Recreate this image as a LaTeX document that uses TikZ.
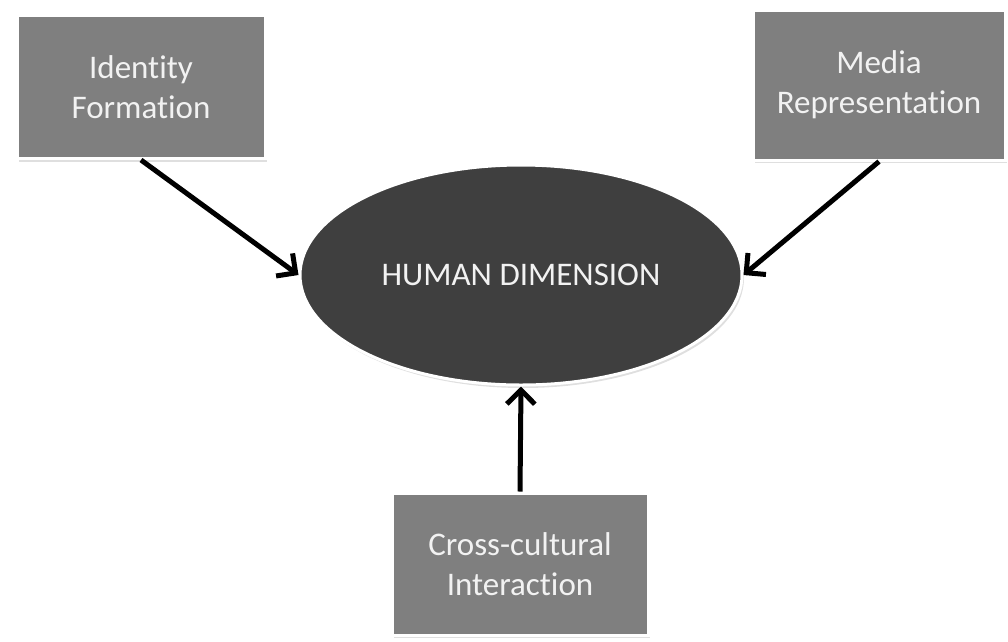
\documentclass[tikz,border=0pt]{standalone}
\usepackage{fontspec}
\setmainfont{Carlito}[Ligatures=NoCommon]
\usetikzlibrary{shapes,arrows.meta,positioning,shadows}
\definecolor{boxgray}{HTML}{7F7F7F}
\definecolor{ovalgray}{HTML}{3F3F3F}
\definecolor{textwhite}{HTML}{F2F2F2}

\begin{document}
\begin{tikzpicture}[x=1pt, y=-1pt,
    every node/.style={font=\fontsize{33}{40}\selectfont, text=textwhite, align=center},
    factor/.style={draw=white, line width=3pt, fill=boxgray, inner sep=0pt,
        drop shadow={shadow xshift=2pt, shadow yshift=-3pt, opacity=0.25}},
    link/.style={-{Straight Barb[length=14pt, width=28pt]}, line width=5pt, black}]
            \useasboundingbox (0,0) rectangle (1008,641);

            % Centre
            \node[factor, ellipse, fill=ovalgray, minimum width=442pt, minimum height=220pt] (human) at (521,275) {HUMAN DIMENSION};

            % Factors
            \node[factor, minimum width=248pt, minimum height=143pt] (identity) at (141,87) {Identity\\Formation};
            \node[factor, minimum width=252pt, minimum height=150pt] (media) at (879,85) {Media\\Representation};
            \node[factor, minimum width=256pt, minimum height=142pt] (cross) at (520,564) {Cross-cultural\\Interaction};

            % Arrows
            \draw[link] (identity.south) -- (human.west);
            \draw[link] (media.south) -- (human.east);
            \draw[link] (cross.north) -- (human.south);
        \end{tikzpicture}
\end{document}
